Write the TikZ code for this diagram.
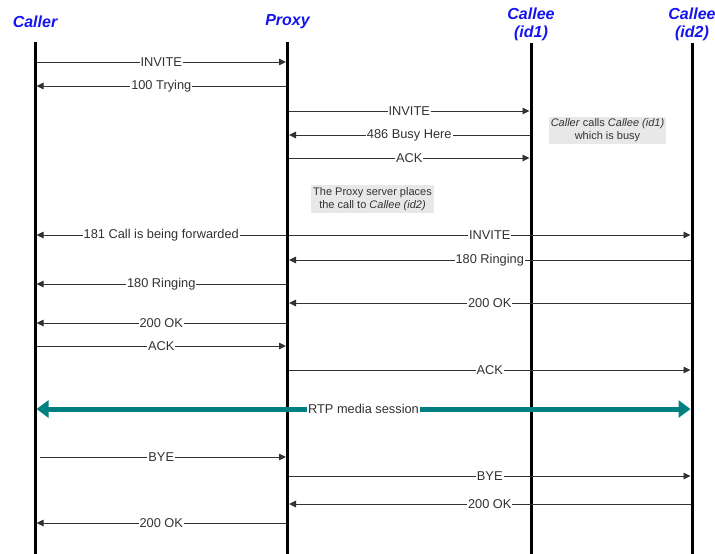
\documentclass[tikz,border=0pt]{standalone}
\usepackage{fontspec}
\setmainfont{Liberation Sans}
\usetikzlibrary{arrows.meta,positioning}
\definecolor{hdrblue}{RGB}{20,20,240}
\definecolor{rtpteal}{RGB}{0,128,128}
\definecolor{msggray}{RGB}{50,50,50}
\definecolor{notegray}{RGB}{232,232,232}
\tikzset{
  party/.style={font=\fontsize{16}{18}\selectfont\bfseries\itshape, text=hdrblue, align=center, inner sep=0pt},
  lifeline/.style={line width=3pt},
  msg/.style={draw=msggray, line width=0.9pt, shorten >=1.5pt, shorten <=1.5pt, -{Triangle[length=7pt,width=6.5pt]}},
  lbl/.style={fill=white, inner xsep=1pt, inner ysep=0.5pt, text=msggray, font=\fontsize{12.8}{14}\selectfont},
  note/.style={fill=notegray, text=msggray, align=center, inner sep=0pt, font=\fontsize{11}{13}\selectfont},
  rtp/.style={draw=rtpteal, line width=5pt, shorten >=1.5pt, shorten <=1.5pt, {Triangle[length=12pt,width=17pt]}-{Triangle[length=12pt,width=17pt]}}
}
\begin{document}
\begin{tikzpicture}[x=1pt,y=-1pt]
  \useasboundingbox (0,0) rectangle (715,554);
  % Parties
  \node[party] (caller) at (35,22) {Caller};
  \node[party] (proxy) at (287.5,22) {Proxy};
  \node[party] (calleeA) at (531,24) {Callee\\(id1)};
  \node[party] (calleeB) at (692,24) {Callee\\(id2)};
  % Lifelines
  \coordinate (callerTop) at (35,42);
  \coordinate (proxyTop) at (287.5,42);
  \coordinate (calleeATop) at (531,43);
  \coordinate (calleeBTop) at (692,43);
  \draw[lifeline] (callerTop) -- (callerTop |- 0,554);
  \draw[lifeline] (proxyTop) -- (proxyTop |- 0,554);
  \draw[lifeline] (calleeATop) -- (calleeATop |- 0,554);
  \draw[lifeline] (calleeBTop) -- (calleeBTop |- 0,554);
  % First attempt, Callee (id1) busy
  \draw[msg] (callerTop |- 0,62) -- node[lbl] {INVITE} (proxyTop |- 0,62);
  \draw[msg] (proxyTop |- 0,86) -- node[lbl] {100 Trying} (callerTop |- 0,86);
  \draw[msg] (proxyTop |- 0,111) -- node[lbl] {INVITE} (calleeATop |- 0,111);
  \draw[msg] (calleeATop |- 0,135) -- node[lbl] {486 Busy Here} (proxyTop |- 0,135);
  \draw[msg] (proxyTop |- 0,158) -- node[lbl] {ACK} (calleeATop |- 0,158);
  \node[note, minimum width=117pt, minimum height=27pt] (busyNote) at (607.5,130)
    {\textit{Caller} calls \textit{Callee (id1)}\\which is busy};
  \node[note, minimum width=123pt, minimum height=28pt] (fwdNote) at (372.5,199)
    {The Proxy server places\\the call to \textit{Callee (id2)}};
  % Forwarded to Callee (id2)
  \draw[msg] (proxyTop |- 0,235) -- node[lbl] {181 Call is being forwarded} (callerTop |- 0,235);
  \draw[msg] (proxyTop |- 0,235) -- node[lbl] {INVITE} (calleeBTop |- 0,235);
  \draw[msg] (calleeBTop |- 0,260) -- node[lbl] {180 Ringing} (proxyTop |- 0,260);
  \draw[msg] (proxyTop |- 0,284) -- node[lbl] {180 Ringing} (callerTop |- 0,284);
  \draw[msg] (calleeBTop |- 0,303) -- node[lbl] {200 OK} (proxyTop |- 0,303);
  \draw[msg] (proxyTop |- 0,323) -- node[lbl] {200 OK} (callerTop |- 0,323);
  \draw[msg] (callerTop |- 0,346) -- node[lbl] {ACK} (proxyTop |- 0,346);
  \draw[msg] (proxyTop |- 0,370) -- node[lbl] {ACK} (calleeBTop |- 0,370);
  % Media
  \draw[rtp] (callerTop |- 0,409) -- node[lbl] {RTP media session} (calleeBTop |- 0,409);
  % Tear down
  \draw[msg, shorten <=5pt] (callerTop |- 0,457) -- node[lbl] {BYE} (proxyTop |- 0,457);
  \draw[msg] (proxyTop |- 0,476) -- node[lbl] {BYE} (calleeBTop |- 0,476);
  \draw[msg] (calleeBTop |- 0,504) -- node[lbl] {200 OK} (proxyTop |- 0,504);
  \draw[msg] (proxyTop |- 0,523) -- node[lbl] {200 OK} (callerTop |- 0,523);
\end{tikzpicture}
\end{document}
